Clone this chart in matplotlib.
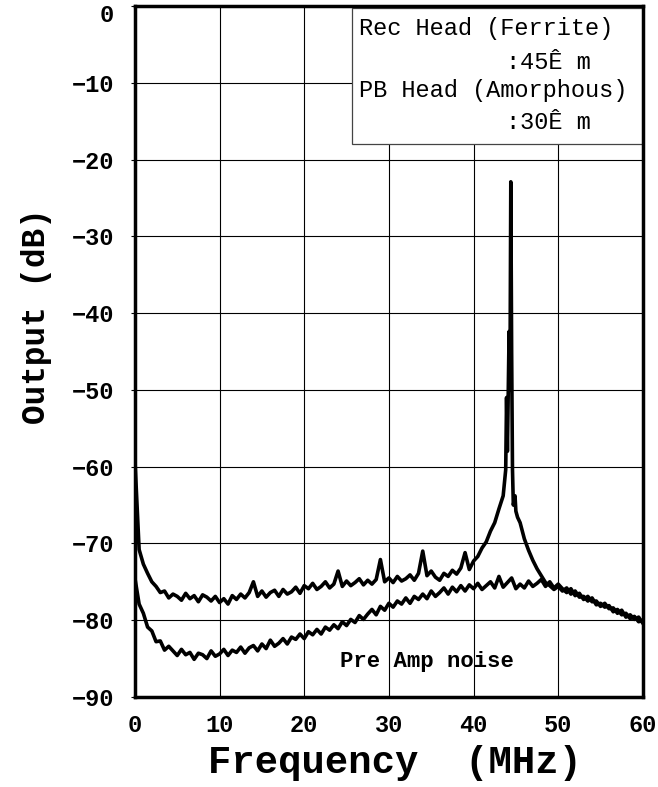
import numpy as np
import matplotlib
matplotlib.use("Agg")
import matplotlib.pyplot as plt
from matplotlib.patches import Rectangle
from matplotlib.transforms import ScaledTranslation

plt.rcParams['font.family'] = ['Liberation Mono', 'DejaVu Sans Mono']

# frequency grid (MHz), 0.5 MHz steps
freq = np.arange(0, 60.5, 0.5)

# Rec head output (dB): 0 - 43.5 MHz
rec_low = [
    -59.0, -70.8, -72.7, -73.9, -75.0, -75.6, -76.4, -76.2, -77.1, -76.6,
    -76.9, -77.4, -76.5, -77.2, -76.8, -77.6, -76.7, -77.0, -77.5, -76.9,
    -77.7, -77.2, -77.9, -76.8, -77.3, -76.6, -77.1, -76.4, -75.0, -76.9,
    -76.2, -77.0, -76.4, -76.1, -76.9, -76.0, -76.6, -76.3, -75.7, -76.5,
    -75.5, -75.9, -75.2, -76.0, -75.6, -75.0, -75.8, -75.3, -73.6, -75.6,
    -74.9, -75.5, -75.1, -74.6, -75.4, -74.8, -75.3, -74.7, -72.1, -75.0,
    -74.5, -75.1, -74.3, -74.9, -74.6, -74.1, -74.8, -73.9, -71.0, -74.2,
    -73.6, -74.4, -74.8, -73.9, -74.3, -73.5, -74.0, -73.2, -71.2, -73.4,
    -72.3, -71.7, -70.6, -69.8, -68.4, -67.3, -65.5, -63.8,
]
# Rec head output (dB): 45.5 - 60 MHz
rec_high = [
    -67.3, -69.4, -70.9, -72.2, -73.3, -74.2, -75.1, -75.5, -76.0, -75.6,
    -76.2, -75.8, -76.6, -76.2, -77.0, -76.9, -77.5, -77.1, -78.0, -77.8,
    -78.3, -78.1, -78.9, -78.6, -79.3, -79.1, -79.8, -79.5, -80.2, -80.0,
]
# carrier peak around 44.5 MHz
peak_freq = [43.8, 43.9, 44.0, 44.1, 44.2, 44.3, 44.4, 44.5, 44.6, 44.7, 44.9, 45.0, 45.2]
peak_level = [-60.4, -51.0, -58.0, -50.0, -42.4, -50.0, -22.9, -45.0, -60.4, -65.0,
              -63.8, -65.8, -66.6]

# pre amp noise (dB) on the 0.5 MHz grid
amp_level = [
    -74.5, -77.9, -79.1, -80.9, -81.4, -82.8, -82.7, -83.9, -83.4, -84.0,
    -84.6, -83.8, -84.5, -84.2, -85.1, -84.3, -84.5, -85.0, -84.0, -84.7,
    -84.4, -83.8, -84.6, -83.9, -84.2, -83.5, -84.3, -83.6, -83.3, -84.0,
    -83.1, -83.7, -82.6, -83.4, -83.0, -82.4, -83.1, -82.2, -82.5, -81.8,
    -82.4, -81.5, -81.9, -81.2, -81.8, -80.9, -81.3, -80.6, -81.1, -80.2,
    -80.7, -79.9, -80.3, -79.4, -79.9, -79.2, -78.6, -79.3, -78.2, -78.7,
    -77.8, -78.3, -77.5, -77.9, -77.1, -77.8, -76.9, -77.3, -76.6, -77.2,
    -76.2, -76.9, -76.4, -75.8, -76.6, -75.7, -76.3, -75.5, -76.2, -75.4,
    -75.9, -75.2, -76.0, -75.5, -75.0, -75.8, -74.3, -75.7, -75.1, -74.5,
    -75.9, -75.3, -75.8, -74.9, -75.6, -75.2, -74.7, -75.6, -75.0, -75.8,
    -75.3, -75.9, -76.4, -75.9, -76.8, -76.5, -77.3, -76.9, -77.6, -77.5,
    -78.2, -77.8, -78.5, -78.4, -79.1, -78.7, -79.6, -79.3, -79.9, -79.6,
    -80.4,
]

xticks = [0, 10, 20, 30, 40, 50, 60]
yticks = [0, -10, -20, -30, -40, -50, -60, -70, -80, -90]
legend_lines = ["Rec Head (Ferrite)", ":45Ê m", "PB Head (Amorphous)", ":30Ê m"]

n_low = len(rec_low)
rec_freq = np.concatenate([freq[:n_low], peak_freq, freq[-len(rec_high):]])
rec_level = np.concatenate([rec_low, peak_level, rec_high])

fig = plt.figure(figsize=(6.58, 7.87), dpi=100)
ax = fig.add_axes([0.205, 0.1144, 0.772, 0.878])

ax.plot(freq, amp_level, color='black', lw=2.6, zorder=2)
ax.plot(rec_freq, rec_level, color='black', lw=2.6, zorder=2)

ax.set_xlim(0, 60)
ax.set_ylim(-90, 0)
ax.set_xticks(xticks)
ax.set_yticks(yticks)
ax.grid(True, color='black', lw=0.8)
ax.tick_params(axis='x', length=0, pad=12)
ax.tick_params(axis='y', length=3, pad=12, direction='out')
for lab in ax.get_xticklabels() + ax.get_yticklabels():
    lab.set_fontweight('bold')
    lab.set_fontsize(17)
# top "0" label sits a little lower in the original
top_lab = ax.get_yticklabels()[0]
top_lab.set_transform(top_lab.get_transform() + ScaledTranslation(0, -5 / 72, fig.dpi_scale_trans))
for sp in ax.spines.values():
    sp.set_linewidth(2.5)
    sp.set_zorder(5)

# annotation box in upper right
ax.add_patch(Rectangle((0.427, 0.80), 0.573, 0.197, transform=ax.transAxes,
                       facecolor='white', edgecolor='#444444', lw=0.9, zorder=3))
leg_pos = [(0.441, 0.968), (0.730, 0.918), (0.441, 0.877), (0.730, 0.831)]
for (lx, ly), line in zip(leg_pos, legend_lines):
    ax.text(lx, ly, line, transform=ax.transAxes, fontsize=17,
            ha='left', va='center', zorder=4)

ax.text(34.5, -85.4, "Pre Amp noise", fontsize=16, fontweight='bold',
        ha='center', va='center', zorder=4)

fig.text(0.055, 0.598, "Output (dB)", rotation=90, fontsize=23.5,
         fontweight='bold', ha='center', va='center')
fig.text(0.6, 0.0178, "Frequency  (MHz)", fontsize=28,
         fontweight='bold', ha='center', va='baseline')

fig.savefig("out.png", dpi=100)
